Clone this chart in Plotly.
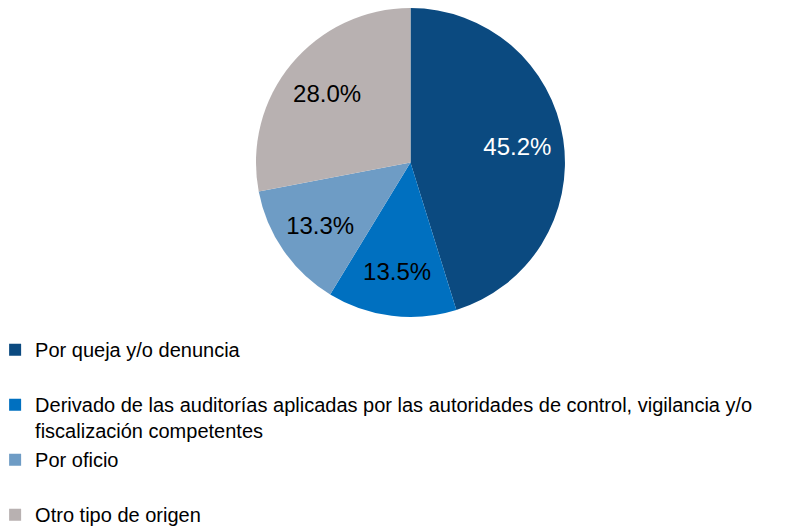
import plotly.graph_objects as go

categories = [
    "Por queja y/o denuncia",
    "Derivado de las auditorías aplicadas por las autoridades de control, vigilancia y/o<br>fiscalización competentes",
    "Por oficio",
    "Otro tipo de origen",
]
values = [45.2, 13.5, 13.3, 28.0]
colors = ["#0B4A80", "#0070C0", "#6E9CC5", "#B8B1B1"]
text_colors = ["#FFFFFF", "#000000", "#000000", "#000000"]

legend_names = [categories[0] + "<br> ", categories[1], categories[2] + "<br> ", categories[3]]

FONT = "Liberation Sans, Arial, sans-serif"
pie_domain = dict(x=[0.3119, 0.7006], y=[0.4159, 1.0])

fig = go.Figure()
# filled pie (legend source)
fig.add_trace(go.Pie(
    labels=legend_names,
    values=values,
    sort=False,
    direction="clockwise",
    rotation=0,
    marker=dict(colors=colors, line=dict(width=0)),
    textinfo="none",
    domain=pie_domain,
    hoverinfo="label+percent",
))
# transparent ring carrying the percentage labels further out
fig.add_trace(go.Pie(
    labels=legend_names,
    values=values,
    sort=False,
    direction="clockwise",
    rotation=0,
    hole=0.4,
    marker=dict(colors=["rgba(0,0,0,0)"] * 4, line=dict(width=0)),
    texttemplate="%{value:.1f}%",
    textposition="inside",
    insidetextorientation="horizontal",
    textfont=dict(family=FONT, size=24, color=text_colors),
    domain=pie_domain,
    showlegend=False,
    hoverinfo="skip",
))

fig.update_layout(
    width=795, height=529,
    margin=dict(l=0, r=0, t=0, b=0, autoexpand=False),
    paper_bgcolor="white",
    plot_bgcolor="white",
    font=dict(family=FONT, size=20, color="#000000"),
    showlegend=True,
    legend=dict(
        x=-0.0162, y=0.391, xanchor="left", yanchor="top",
        orientation="v",
        valign="top",
        itemwidth=30,
        tracegroupgap=0,
        bgcolor="rgba(0,0,0,0)",
        font=dict(family=FONT, size=20, color="#000000"),
    ),
)

fig.write_html("out.html")
